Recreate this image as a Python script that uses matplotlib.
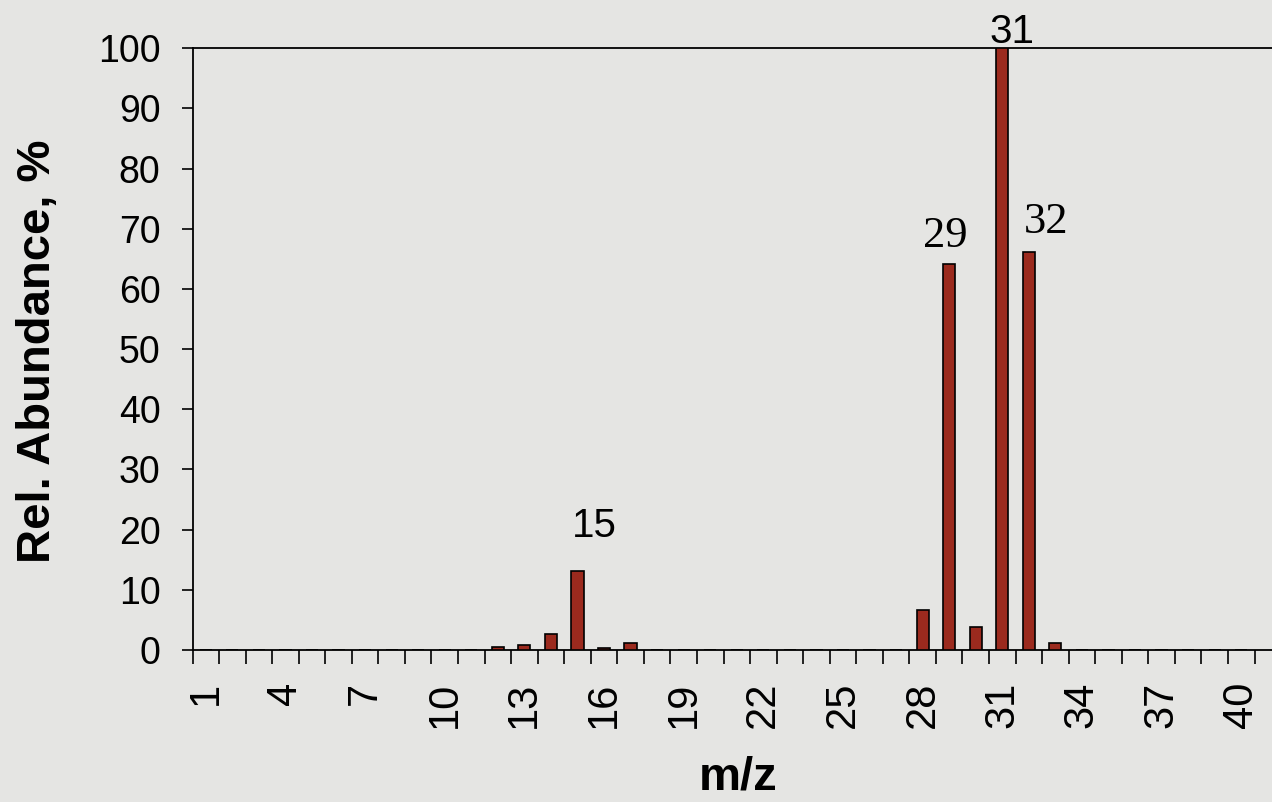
import numpy as np
import matplotlib.pyplot as plt

mz = np.arange(1, 41)
abundance = np.zeros(40)
peak_mz = [12, 13, 14, 15, 16, 17, 28, 29, 30, 31, 32, 33]
peak_val = [0.5, 0.8, 2.6, 13.1, 0.3, 1.2, 6.6, 64.1, 3.9, 100, 66.1, 1.2]
abundance[np.array(peak_mz) - 1] = peak_val

labels = ["15", "29", "31", "32"]
label_x = [15.62, 28.84, 31.37, 32.65]
label_y = [18.8, 66.9, 100.8, 69.3]
label_font = ['Liberation Sans', 'Liberation Serif', 'Liberation Sans', 'Liberation Serif']
label_size = [29, 32, 29, 32]

bg = '#e5e5e3'
fig = plt.figure(figsize=(12.72, 8.02), dpi=100, facecolor=bg)
ax = fig.add_axes([192.5 / 1272, 0.1895, 1 - 192.5 / 1272, 0.7505])
ax.set_facecolor(bg)

ax.bar(mz, abundance, width=0.46, color='#9b2a1e', edgecolor='black', linewidth=1.2, zorder=3)

for t, x, y, f, s in zip(labels, label_x, label_y, label_font, label_size):
    ax.text(x, y, t, ha='center', va='baseline', fontsize=s, family=f, clip_on=False)

ax.set_xlim(0.5, 0.5 + (1272 - 192.5) / 26.55)
ax.set_ylim(0, 100)
ax.set_yticks(np.arange(0, 101, 10))
ax.set_xticks(np.arange(0.5, 41, 1))
ax.set_xticklabels([])
ax.set_xticks(mz[::3], minor=True)
ax.set_xticklabels([str(v) for v in mz[::3]], minor=True, rotation=90)
ax.tick_params(axis='x', which='minor', length=0, pad=23, labelsize=30)
ax.tick_params(axis='x', which='major', length=10, width=1.2, direction='out')
ax.tick_params(axis='y', length=8, width=1.2, direction='out', labelsize=27, pad=15)
for lab in ax.get_xticklabels(minor=True) + ax.get_yticklabels():
    lab.set_family('Liberation Sans')

ax.spines['right'].set_visible(False)
for s in ['left', 'bottom', 'top']:
    ax.spines[s].set_linewidth(1.3)

ax.set_ylabel("Rel. Abundance, %", fontsize=34, fontweight='bold', family='Liberation Sans')
ax.yaxis.set_label_coords(-0.1225, 0.497)
ax.set_xlabel("m/z", fontsize=34, fontweight='bold', family='Liberation Sans', va='baseline')
ax.xaxis.set_label_coords(0.505, -0.2325)

fig.savefig('out.png', dpi=100, facecolor=bg)
